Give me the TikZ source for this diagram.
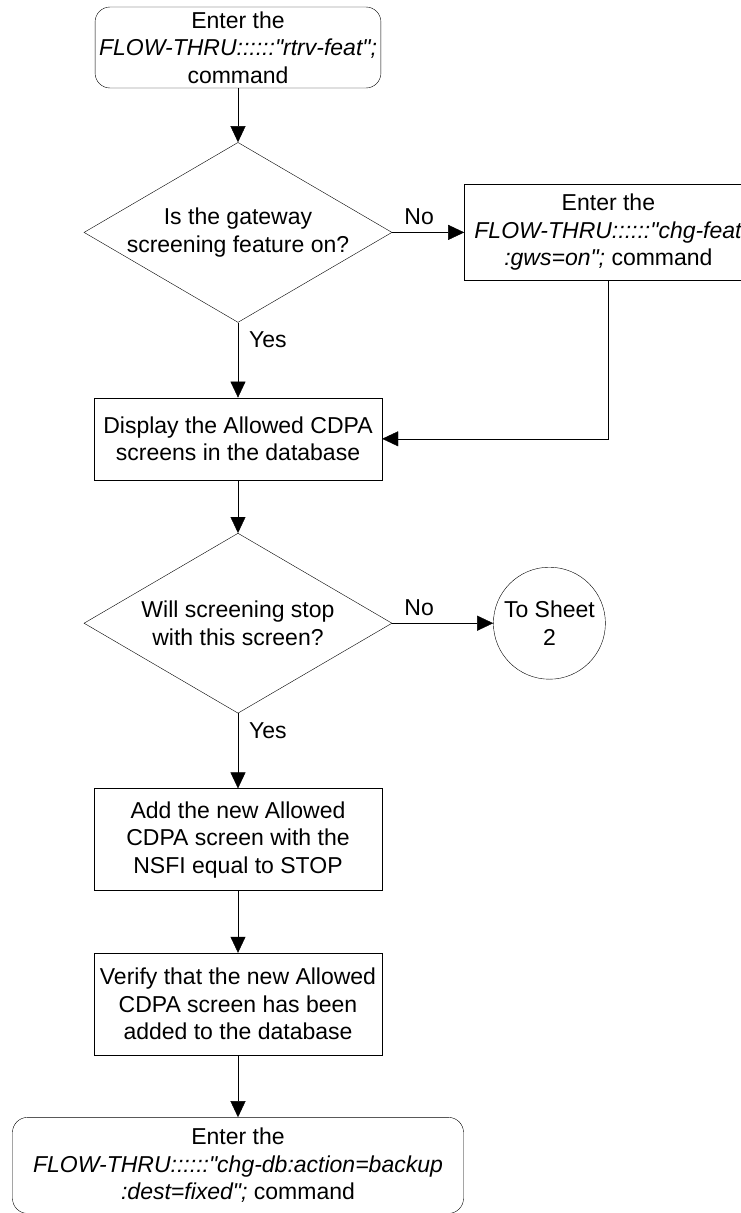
\documentclass[tikz,border=0pt]{standalone}
\usepackage{fontspec}
\setmainfont{Liberation Sans}
\usepackage{tikz}
\usetikzlibrary{positioning}
\usetikzlibrary{shapes.geometric,arrows.meta}
\tikzset{
	-{Triangle[length=16pt,width=15pt]},
	line width=1.4pt,
	proc/.style ={rectangle, draw, minimum width=288pt, minimum height=82pt,
	 inner sep=0pt, align=center},
	term/.style ={proc, rounded corners=15pt, inner xsep=4pt},
	decision/.style = {diamond, draw, aspect=1.71, inner xsep=-4pt, inner ysep=-2pt,
	 minimum width=308pt, minimum height=180pt, align=center},
	sheet/.style = {circle, draw, minimum size=112pt, inner sep=0pt, align=center},
	tag/.style = {inner sep=0pt},
}

\begin{document}
\begin{tikzpicture}[x=1pt, y=-1pt, font=\fontsize{23pt}{27.5pt}\selectfont]
	\useasboundingbox (0,0) rectangle (741,1213);
	\node (RtrvFeat) [term, minimum width=250pt, minimum height=81pt] at (238,47.5)
	 {Enter the\\ \textit{FLOW-THRU::::::\textquotedbl rtrv-feat\textquotedbl;}\\ command};
	\node (GwsOn) [decision, below=54pt of RtrvFeat] {Is the gateway\\ screening feature on?};
	\node (ChgFeat) [proc, minimum height=96pt, right=72pt of GwsOn]
	 {Enter the\\ \textit{FLOW-THRU::::::\textquotedbl chg-feat}\\ \textit{:gws=on\textquotedbl;} command};
	\node (Display) [proc, below=75pt of GwsOn] {Display the Allowed CDPA\\ screens in the database};
	\node (Stop) [decision, below=53pt of Display] {Will screening stop\\ with this screen?};
	\node (Sheet) [sheet, right=101pt of Stop] {To Sheet\\ 2};
	\node (AddScreen) [proc, minimum height=102pt, below=75pt of Stop]
	 {Add the new Allowed\\ CDPA screen with the\\ NSFI equal to STOP};
	\node (Verify) [proc, minimum height=102pt, below=62pt of AddScreen]
	 {Verify that the new Allowed\\ CDPA screen has been\\ added to the database};
	\node (Backup) [term, minimum width=451pt, minimum height=96pt, below=62pt of Verify]
	 {Enter the\\ \textit{FLOW-THRU::::::\textquotedbl chg-db:action=backup}\\ \textit{:dest=fixed\textquotedbl;} command};

	\path (RtrvFeat) edge (GwsOn);
	\path (GwsOn) edge node[tag, pos=0, anchor=south west, xshift=12pt, yshift=7pt] {No} (ChgFeat);
	\path (GwsOn) edge node[tag, pos=0, anchor=north west, xshift=11pt, yshift=-9pt] {Yes} (Display);
	\draw (ChgFeat) |- (Display);
	\path (Display) edge (Stop);
	\path (Stop) edge node[tag, pos=0, anchor=south west, xshift=12pt, yshift=7pt] {No} (Sheet);
	\path (Stop) edge node[tag, pos=0, anchor=north west, xshift=11pt, yshift=-9pt] {Yes} (AddScreen);
	\path (AddScreen) edge (Verify);
	\path (Verify) edge (Backup);
\end{tikzpicture}
\end{document}
